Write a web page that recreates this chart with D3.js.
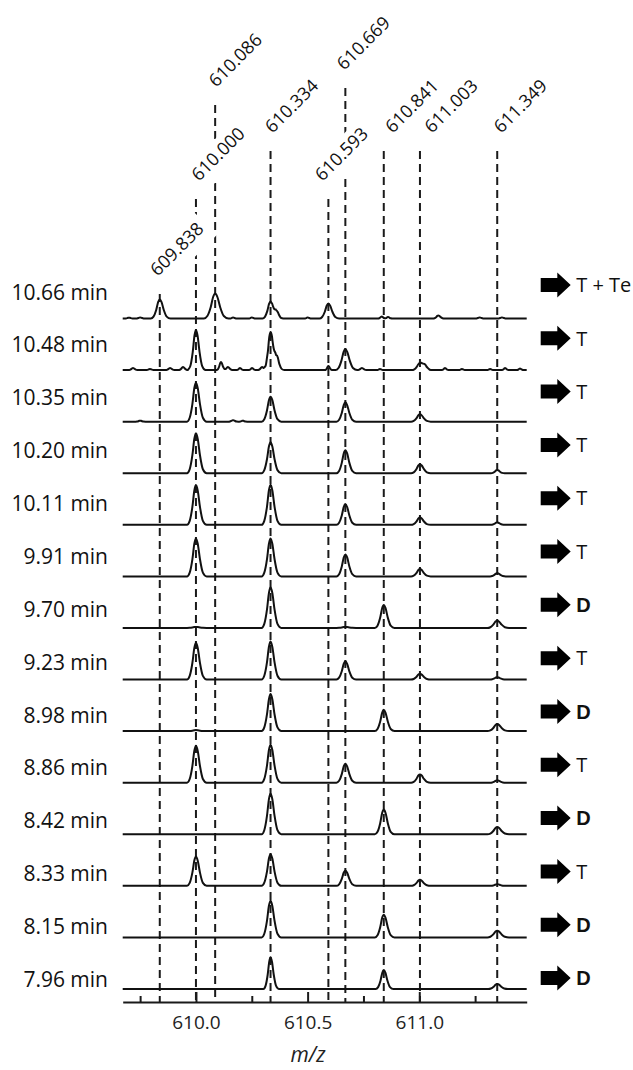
<!DOCTYPE html>
<html><head><meta charset="utf-8">
<script src="https://cdn.jsdelivr.net/npm/d3@7"></script>
<style>body{margin:0;background:#fff}</style>
</head><body>
<svg id="c" width="633" height="1070"></svg>
<script>
// ---------- data ----------
const retentionTimes = ["10.66 min","10.48 min","10.35 min","10.20 min","10.11 min","9.91 min","9.70 min","9.23 min","8.98 min","8.86 min","8.42 min","8.33 min","8.15 min","7.96 min"];
const assignments = ["T + Te","T","T","T","T","T","D","T","D","T","D","T","D","D"];
const referenceMz = [609.838, 610.000, 610.086, 610.334, 610.593, 610.669, 610.841, 611.003, 611.349];
const referenceLabels = ["609.838","610.000","610.086","610.334","610.593","610.669","610.841","611.003","611.349"];
const labelTier = [0, 1, 3, 2, 1, 4, 2, 2, 2];
const majorTicks = [610.0, 610.5, 611.0];
const minorTicks = [609.75, 610.25, 610.75, 611.25];
const axisTitle = "m/z";

// peaks per spectrum: [m/z, intensity, relative width]
const s1066 = [[609.838,19,1],[610.086,25,1.25],[610.334,17,0.9],[610.362,6,0.6],[610.593,15,1],
  [609.700,0.8,0.5],[609.750,1,0.5],[610.166,1,0.4],[610.250,1,0.4],[610.500,1,0.4],[610.832,2,0.4],[610.860,1.5,0.4],[611.085,3,0.6],[611.270,1,0.5],[611.370,1,0.5]];
const s1048 = [[610.000,40,0.9],[610.334,38,0.8],[610.362,12,0.7],[610.112,8,0.5],[610.593,4,0.4],[610.669,21,1.1],[611.003,7,0.9],[611.025,4,0.7],
  [609.718,2,0.5],[609.794,1,0.5],[609.884,2,0.5],[609.942,3,0.5],[610.143,3,0.5],[610.197,2,0.4],[610.251,2,0.4],[610.296,3,0.5],[610.743,2,0.5],[610.824,1,0.4],[611.115,2,0.4],[611.191,1,0.4],[611.317,1,0.4],[611.384,2,0.4],[611.451,1.5,0.4]];
const s1035 = [[610.000,39,1],[610.334,25,1],[610.669,19.3,1],[611.003,7.3,1],[609.750,1,0.5],[610.166,1.5,0.5],[610.210,1,0.4]];
const s1020 = [[610.000,40,1],[610.334,31,1],[610.669,23,1],[611.003,9,1],[611.349,3.3,0.7]];
const s1011 = [[610.000,39.7,1],[610.334,40,1],[610.669,20.7,1],[611.003,7.3,1],[611.349,2.4,0.7]];
const s991  = [[610.000,38,1],[610.334,38,1],[610.669,22,1],[611.003,7.3,1],[611.349,3.3,0.8]];
const s970  = [[610.000,1,1],[610.334,40.7,1],[610.669,1,1],[610.841,23,1],[611.349,7.3,1.1]];
const s923  = [[610.000,36.7,1],[610.334,38,1],[610.669,18.3,1],[611.003,5.7,1],[611.349,2.4,0.8]];
const s898  = [[610.000,1,1],[610.334,37,1],[610.841,21.3,1],[611.349,7,1.1]];
const s886  = [[610.000,37,1],[610.334,38,1],[610.669,19,1],[611.003,8.3,1],[611.349,2.4,0.8]];
const s842  = [[610.334,40.7,1],[610.841,24.7,1],[611.349,7.3,1.1]];
const s833  = [[610.000,29.3,1],[610.334,31.7,1],[610.669,15.3,1],[611.003,6,1],[611.349,1.7,0.8]];
const s815  = [[610.334,36.7,1],[610.841,22.7,1],[611.349,6.7,1.1]];
const s796  = [[610.334,31.7,0.8],[610.841,19,0.9],[611.349,5,1]];
const spectra = [s1066,s1048,s1035,s1020,s1011,s991,s970,s923,s898,s886,s842,s833,s815,s796];

// normalised peak profile: [m/z offset, fraction of apex]
const peakShape = [[-0.040,0],[-0.028,0.1],[-0.016,0.45],[-0.007,0.87],[0,1],[0.008,0.86],[0.018,0.45],[0.031,0.1],[0.048,0]];

// ---------- layout ----------
const labelDx = [-2, 3, 1, 2, -6, -1, 9, 12, 4];   // horizontal nudge of each rotated label

// ---------- drawing ----------
const svg = d3.select("#c");
const x = d3.scaleLinear().domain([609.672, 611.481]).range([122.7, 526.7]);
const rowY = d3.scalePoint().domain(retentionTimes).range([318.5, 989]);
const labelY = d3.scalePoint().domain(retentionTimes).range([299.5, 987]);
const arrowY = d3.scalePoint().domain(retentionTimes).range([285, 978]);
const inten = d3.scaleLinear().domain([0, 40]).range([0, 40]);
const tierY = d3.scaleOrdinal().domain([0,1,2,3,4]).range([277,182,134,88,71]);
const axisY = 1002;

// dashed reference lines
svg.append("g").selectAll("line").data(referenceMz).join("line")
  .attr("x1", d => x(d)).attr("x2", d => x(d))
  .attr("y1", (d,i) => tierY(labelTier[i]) + 17).attr("y2", axisY)
  .attr("stroke", "#1a1a1a").attr("stroke-width", 2).attr("stroke-dasharray", "8,5");

// rotated labels with white boxes (lower tiers drawn first)
const order = d3.range(referenceMz.length).sort((a,b) => labelTier[a] - labelTier[b]);
const lg = svg.append("g").selectAll("g").data(order).join("g")
  .attr("transform", i => `translate(${x(referenceMz[i]) + labelDx[i]},${tierY(labelTier[i])}) rotate(-45)`);
lg.append("rect").attr("fill", "#fff");
lg.append("text").text(i => referenceLabels[i])
  .attr("font-family", "Open Sans").attr("font-size", 18).attr("fill", "#111");
lg.each(function() {
  const g = d3.select(this);
  const L = g.select("text").node().getComputedTextLength();
  g.select("rect").attr("x", -3).attr("y", -19).attr("width", L + 8).attr("height", 31);
});

// axis
const axMinor = d3.axisBottom(x).tickValues(minorTicks).tickSize(-6).tickSizeOuter(0).tickFormat("");
const axMajor = d3.axisBottom(x).tickValues(majorTicks).tickSize(-10).tickSizeOuter(0).tickPadding(14).tickFormat(d3.format(".1f"));
const gMinor = svg.append("g").attr("transform", `translate(0,${axisY})`).call(axMinor);
gMinor.select(".domain").remove();
gMinor.selectAll("line").attr("stroke", "#1a1a1a").attr("stroke-width", 2);
const gMajor = svg.append("g").attr("transform", `translate(0,${axisY})`).call(axMajor);
gMajor.select(".domain").attr("stroke", "#1a1a1a").attr("stroke-width", 2);
gMajor.selectAll("line").attr("stroke", "#1a1a1a").attr("stroke-width", 2);
gMajor.selectAll("text").attr("font-family", "Open Sans").attr("font-size", 19).attr("fill", "#222");

svg.append("text").attr("x", 308).attr("y", 1062).attr("text-anchor", "middle")
  .attr("font-family", "Open Sans").attr("font-style", "italic").attr("font-size", 21).attr("fill", "#222")
  .text(axisTitle);

// traces
function shapeAt(d, w) {
  const first = peakShape[0][0] * w, last = peakShape[peakShape.length-1][0] * w;
  if (d <= first || d >= last) return 0;
  for (let k = 1; k < peakShape.length; k++) {
    const x0 = peakShape[k-1][0]*w, x1 = peakShape[k][0]*w;
    if (d <= x1) { const t = (d - x0) / (x1 - x0); return peakShape[k-1][1] + t*(peakShape[k][1]-peakShape[k-1][1]); }
  }
  return 0;
}
function buildTrace(peaks) {
  const [d0, d1] = x.domain();
  const xs = new Set([d0, d1]);
  peaks.forEach(([m,,w]) => peakShape.forEach(([o]) => xs.add(+(m + o*w).toFixed(5))));
  return Array.from(xs).filter(v => v >= d0 && v <= d1).sort((a,b) => a-b)
    .map(v => [v, d3.sum(peaks, ([m,h,w]) => h * shapeAt(v - m, w))]);
}
const line = d3.line().curve(d3.curveMonotoneX);
svg.append("g").selectAll("path").data(spectra).join("path")
  .attr("d", (p,i) => line(buildTrace(p).map(([m,h]) => [x(m), rowY(retentionTimes[i]) - inten(h)])))
  .attr("fill", "none").attr("stroke", "#111").attr("stroke-width", 2).attr("stroke-linejoin", "round");

// left labels
svg.append("g").selectAll("text").data(retentionTimes).join("text")
  .attr("x", 108).attr("y", d => labelY(d)).attr("text-anchor", "end")
  .attr("font-family", "Open Sans").attr("font-size", 21).attr("fill", "#111").text(d => d);

// arrows + assignments
const ag = svg.append("g").selectAll("g").data(retentionTimes).join("g")
  .attr("transform", d => `translate(540.7,${arrowY(d)})`);
ag.append("path").attr("d", "M0,-7H16.6V-12.5L30,0L16.6,12.5V7H0Z").attr("fill", "#000");
ag.append("text").attr("x", 35.5).attr("y", 0).attr("dy", "0.36em")
  .attr("font-family", (d,i) => assignments[i] === "D" ? "Liberation Sans" : "Open Sans")
  .attr("font-weight", (d,i) => assignments[i] === "D" ? "bold" : "normal")
  .attr("font-size", 20).attr("fill", "#111").text((d,i) => assignments[i]);
</script>
</body></html>
